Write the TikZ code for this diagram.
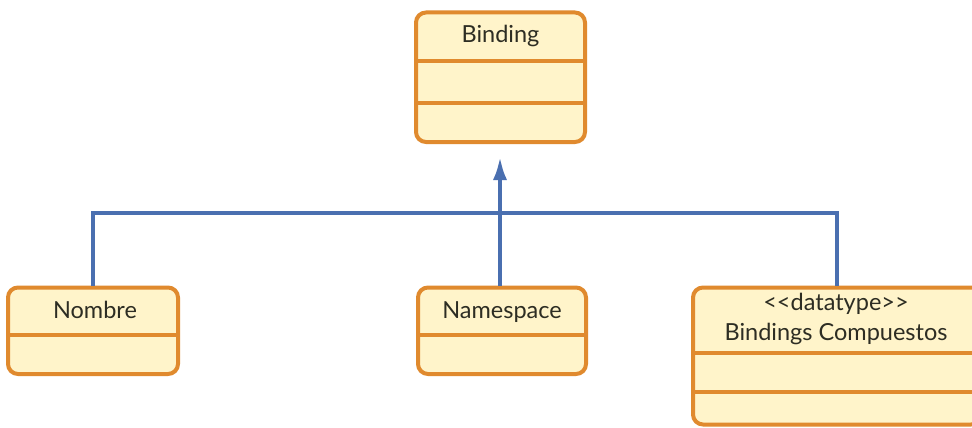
\documentclass[tikz,border=0pt]{standalone}
\usepackage{fontspec}
\setmainfont{Lato}
\usetikzlibrary{arrows.meta}
\definecolor{umlorange}{RGB}{224,138,46}
\definecolor{umlfill}{RGB}{255,244,202}
\definecolor{umlblue}{RGB}{74,111,176}
\definecolor{umltext}{RGB}{45,45,35}
\tikzset{
  cls/.style={draw=umlorange, fill=umlfill, line width=4pt, rounded corners=10pt, inner sep=0pt},
  divider/.style={draw=umlorange, line width=4pt},
  lbl/.style={anchor=base, text=umltext, font=\fontsize{23.5}{28}\selectfont, inner sep=0pt},
  link/.style={draw=umlblue, line width=4.5pt},
  tip/.style={-{Latex[length=24pt,width=14pt]}}
}
\begin{document}
\begin{tikzpicture}[x=1pt,y=-1pt]
  \useasboundingbox (0,0) rectangle (972,428);
  \clip (0,0) rectangle (972,428);
  \fill[white] (0,0) rectangle (972,428);

  % class boxes
  \node[cls, minimum width=169pt, minimum height=129.5pt] (binding) at (500.5,77.25) {};
  \node[cls, minimum width=170pt, minimum height=86.5pt] (nombre) at (93,330.75) {};
  \node[cls, minimum width=168pt, minimum height=86.5pt] (namespace) at (502,330.75) {};
  \node[cls, minimum width=288pt, minimum height=137pt] (bindings) at (837,356) {};

  % compartment separators
  \draw[divider] (binding.west |- 0,61) -- (binding.east |- 0,61);
  \draw[divider] (binding.west |- 0,103) -- (binding.east |- 0,103);
  \draw[divider] (nombre.west |- 0,335) -- (nombre.east |- 0,335);
  \draw[divider] (namespace.west |- 0,335) -- (namespace.east |- 0,335);
  \draw[divider] (bindings.west |- 0,353) -- (bindings.east |- 0,353);
  \draw[divider] (bindings.west |- 0,392) -- (bindings.east |- 0,392);

  % class names
  \node[lbl] (tbinding) at (500.5,43) {Binding};
  \node[lbl] (tnombre) at (95,318) {Nombre};
  \node[lbl] (tnamespace) at (502,318) {Namespace};
  \node[lbl] (tstereo) at (836,310) {<\kern0pt<datatype>\kern0pt>};
  \node[lbl] (tbindings) at (836,340) {Bindings Compuestos};

  % generalisation links
  \coordinate (hub) at (500,213);
  \coordinate (arrowtip) at (500,156);
  \draw[link] (nombre.north) |- (hub) -| (bindings.north);
  \draw[link] (namespace.north -| hub) -- (hub);
  \draw[link, tip] (hub) -- (arrowtip);
\end{tikzpicture}
\end{document}
